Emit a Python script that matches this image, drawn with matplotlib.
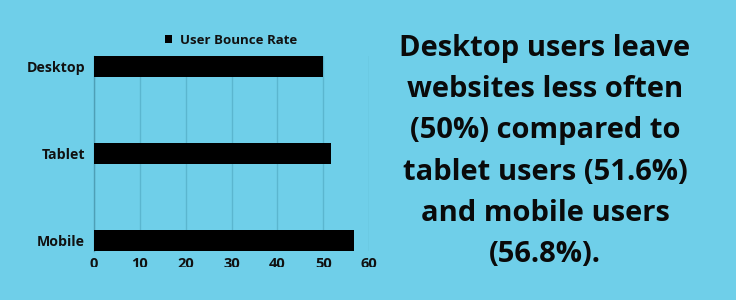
import matplotlib
matplotlib.use("Agg")
import matplotlib.pyplot as plt
from matplotlib.patches import Rectangle

categories = ["Desktop", "Tablet", "Mobile"]
bounce_rate = [50.0, 51.6, 56.8]
xticks = [0, 10, 20, 30, 40, 50, 60]
series_name = "User Bounce Rate"
caption = ("Desktop users leave\nwebsites less often\n(50%) compared to\n"
           "tablet users (51.6%)\nand mobile users\n(56.8%).")

BG = "#6fcfe9"
W, H = 736, 300
fig = plt.figure(figsize=(W / 100, H / 100), dpi=100, facecolor=BG)

# axes: x 94..369, y 56..251 (pixels from top)
ax = fig.add_axes([94 / W, 1 - 251 / H, (369 - 94) / W, (251 - 56) / H])
ax.set_facecolor(BG)
ypos = list(range(len(categories)))
ax.barh(ypos, bounce_rate, height=0.24, color="black", zorder=3,
        label=series_name)
ax.set_ylim(2.125, -0.125)
ax.set_xlim(0, 60)
ax.set_xticks(xticks)
ax.set_yticks(ypos)
ax.set_yticklabels(categories, fontsize=10.2, fontweight="bold",
                   family="Open Sans", color="#111111")
ax.set_xticklabels([str(v) for v in xticks], fontsize=10.5, fontweight="bold",
                   family="Open Sans", color="#111111")
ax.tick_params(axis="both", length=0)
ax.tick_params(axis="y", pad=6.5)
ax.tick_params(axis="x", pad=4)
ax.grid(axis="x", color="#5bb6cf", linewidth=1.0, zorder=0)
for s in ["top", "right", "bottom"]:
    ax.spines[s].set_visible(False)
ax.spines["left"].set_color("#4e9fb6")
ax.spines["left"].set_linewidth(1.0)

leg = ax.legend(loc="lower center", bbox_to_anchor=(0.498, 1.0), frameon=False,
                prop={"family": "Open Sans", "weight": "bold", "size": 9.5},
                handlelength=0.5, handleheight=0.5, handletextpad=0.6,
                borderaxespad=0.3)
for t in leg.get_texts():
    t.set_color("#111111")

fig.text(545 / W, 1 - 151.5 / H, caption, ha="center", va="center",
         fontsize=21, fontweight="bold", family="Open Sans",
         linespacing=1.56, color="#0a0a0a")

# clip x tick labels like the reference (bottom part cut off)
fig.canvas.draw()
clip = Rectangle((0, 1 - 267 / H), 1, 267 / H, transform=fig.transFigure)
for t in ax.get_xticklabels():
    t.set_clip_path(clip)
    t.set_clip_on(True)

fig.savefig("out.png", dpi=100, facecolor=BG)
